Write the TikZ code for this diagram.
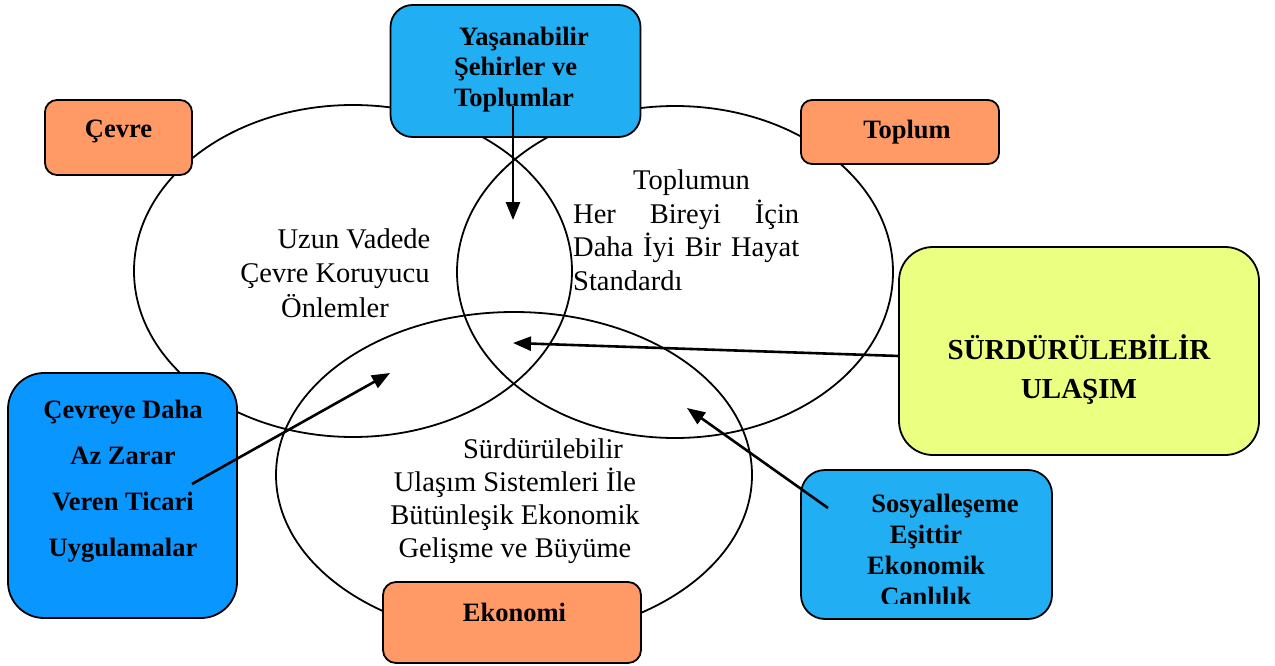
\documentclass[tikz,border=0pt]{standalone}
\usepackage{fontspec}
\setmainfont{Liberation Serif}
\usetikzlibrary{arrows.meta}

\definecolor{boxorange}{HTML}{FF9966}
\definecolor{boxblue}{HTML}{22AEF2}
\definecolor{boxdeep}{HTML}{0A96FF}
\definecolor{boxyellow}{HTML}{EBFF80}

\begin{document}
\begin{tikzpicture}[x=1pt,y=-1pt,>={Triangle[length=18pt,width=14pt]},
    ring/.style={line width=1.8pt},
    box/.style={rectangle,draw,line width=1.8pt,inner sep=0pt},
    plain text/.style={inner sep=0pt,anchor=base,font=\fontsize{28.5}{34}\selectfont},
    bold text/.style={inner sep=0pt,anchor=base,font=\fontsize{26.5}{31}\selectfont\bfseries},
    pointer/.style={->,line width=2.6pt}]
\useasboundingbox (0,0) rectangle (1275,666);

% the three circles
\draw[ring] (353,271) ellipse [x radius=219,y radius=166];
\draw[ring] (675,272) ellipse [x radius=218,y radius=166];
\draw[ring] (514,475) ellipse [x radius=238,y radius=163];

% boxes
\node[box,fill=boxorange,minimum width=147,minimum height=75,rounded corners=12] (cevre) at (118.5,137.5) {};
\node[box,fill=boxorange,minimum width=198,minimum height=64,rounded corners=11] (toplum) at (900,132) {};
\node[box,fill=boxorange,minimum width=258,minimum height=81,rounded corners=13] (ekonomi) at (512,622.5) {};
\node[box,fill=boxblue,minimum width=250,minimum height=132,rounded corners=22] (yasam) at (515.5,71) {};
\node[box,fill=boxdeep,minimum width=229,minimum height=245,rounded corners=36] (ticari) at (122.5,495.5) {};
\node[box,fill=boxblue,minimum width=251,minimum height=149,rounded corners=24] (sosyal) at (926.5,544.5) {};
\node[box,fill=boxyellow,minimum width=360,minimum height=208,rounded corners=34] (surd) at (1079,351) {};

% texts (base = last line)
\node[bold text] (cevre label) at (118.5,138) {Çevre};
\node[bold text] (toplum label) at (907,139) {Toplum};
\node[bold text] (ekonomi label) at (514.5,621) {Ekonomi};
\node[bold text,anchor=base west,align=left] (yasam label) at (454,107)
  {\hspace*{5pt}Yaşanabilir\\Şehirler ve\\Toplumlar};
\node[bold text,align=center,font=\fontsize{26.5}{46}\selectfont\bfseries] (ticari label) at (123,556)
  {Çevreye Daha\\Az Zarar\\Veren Ticari\\Uygulamalar};
\begin{scope}
\clip (801,470) rectangle (1052,603);
\node[bold text,align=center] (sosyal label) at (926,605)
  {\hspace*{38pt}Sosyalleşeme\\Eşittir\\Ekonomik\\Canlılık};
\end{scope}
\node[bold text,align=center,font=\fontsize{29}{39}\selectfont\bfseries] (surd label) at (1079,398)
  {SÜRDÜRÜLEBİLİR\\ULAŞIM};
\node[plain text,align=center,font=\fontsize{28.5}{34.5}\selectfont] (uzun label) at (335,317)
  {\hspace*{38pt}Uzun Vadede\\Çevre Koruyucu\\Önlemler};
\node[plain text,anchor=base west,align=left,font=\fontsize{28.5}{33.5}\selectfont] (hayat label) at (573,290)
  {\hspace*{60pt}Toplumun\\\makebox[226pt][s]{Her Bireyi İçin}\\\makebox[226pt][s]{Daha İyi Bir Hayat}\\Standardı};
\node[plain text,align=center,font=\fontsize{28.5}{33}\selectfont] (ulasim label) at (515,557)
  {\hspace*{56pt}Sürdürülebilir\\Ulaşım Sistemleri İle\\Bütünleşik Ekonomik\\Gelişme ve Büyüme};

% arrows
\coordinate (yasam start) at (513,106);
\coordinate (yasam tip) at (513,220);
\coordinate (surd start) at (899,356);
\coordinate (surd tip) at (513,343);
\coordinate (ticari start) at (192,484);
\coordinate (ticari tip) at (390,373);
\coordinate (sosyal start) at (828,508);
\coordinate (sosyal tip) at (687,408);

\path[pointer] (yasam start) edge (yasam tip)
               (surd start) edge (surd tip)
               (ticari start) edge (ticari tip)
               (sosyal start) edge (sosyal tip);
\end{tikzpicture}
\end{document}
